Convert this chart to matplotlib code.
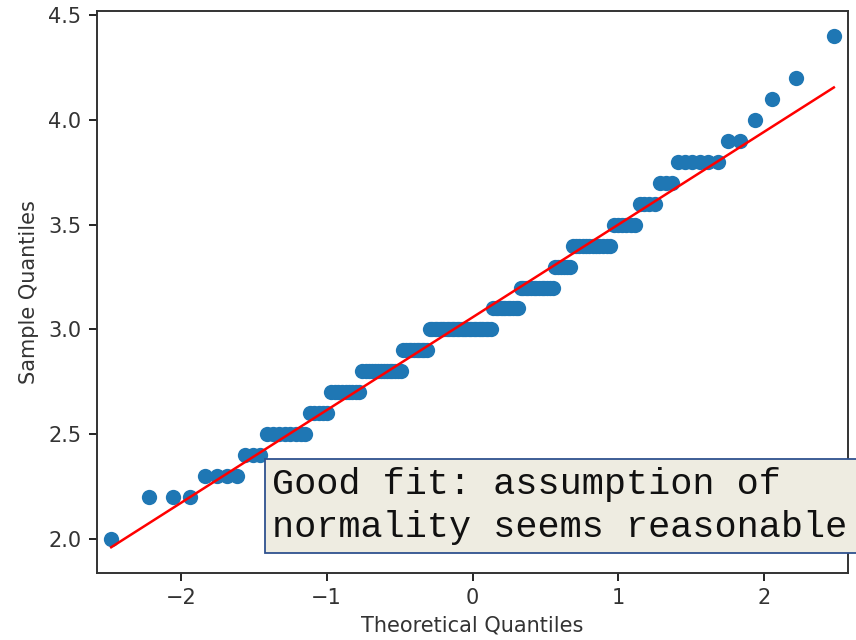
import numpy as np
import matplotlib.pyplot as plt
from matplotlib.patches import Rectangle
from statistics import NormalDist

# sample values (sepal width) and how often each occurs
values = [2.0, 2.2, 2.3, 2.4, 2.5, 2.6, 2.7, 2.8, 2.9, 3.0, 3.1, 3.2,
          3.3, 3.4, 3.5, 3.6, 3.7, 3.8, 3.9, 4.0, 4.1, 4.2, 4.4]
counts = [1, 3, 4, 3, 8, 5, 9, 14, 10, 26, 11, 13,
          6, 12, 6, 4, 3, 6, 2, 1, 1, 1, 1]

note = "Good fit: assumption of\nnormality seems reasonable"

sample = np.sort(np.repeat(values, counts))
n = len(sample)
pos = np.arange(1, n + 1) / (n + 1)
theoretical = np.array([NormalDist().inv_cdf(p) for p in pos])

slope, intercept = np.polyfit(theoretical, sample, 1)

fig = plt.figure(figsize=(8.56, 6.4), dpi=100)
ax = fig.add_axes([0.113, 0.105, 0.878, 0.878])

ax.plot(theoretical, sample, "o", color="#1f77b4", markersize=11,
        markeredgewidth=0)
ax.plot(theoretical, slope * theoretical + intercept, color="red",
        linewidth=1.8)
ax.set_xmargin(0.02)

ax.set_xlabel("Theoretical Quantiles", fontsize=15, color="#333333",
              labelpad=5)
ax.set_ylabel("Sample Quantiles", fontsize=15, color="#333333",
              labelpad=7)
ax.tick_params(labelsize=15, labelcolor="#333333", length=6, width=1.2,
               pad=5)
for s in ax.spines.values():
    s.set_linewidth(1.4)
    s.set_color("#333333")

# annotation box (overlaps the axes and runs off the right edge)
fig.add_artist(Rectangle((265 / 856, 1 - 553 / 640), 0.8, 94 / 640,
                         transform=fig.transFigure, facecolor="#eeece1",
                         edgecolor="#2f528f", linewidth=1.3, zorder=5))
fig.text(272 / 856, 1 - 506 / 640, note, family="Liberation Mono",
         fontsize=26.6, va="center", ha="left", color="#111111",
         linespacing=1.3, zorder=6)

fig.savefig("out.png", dpi=100)
